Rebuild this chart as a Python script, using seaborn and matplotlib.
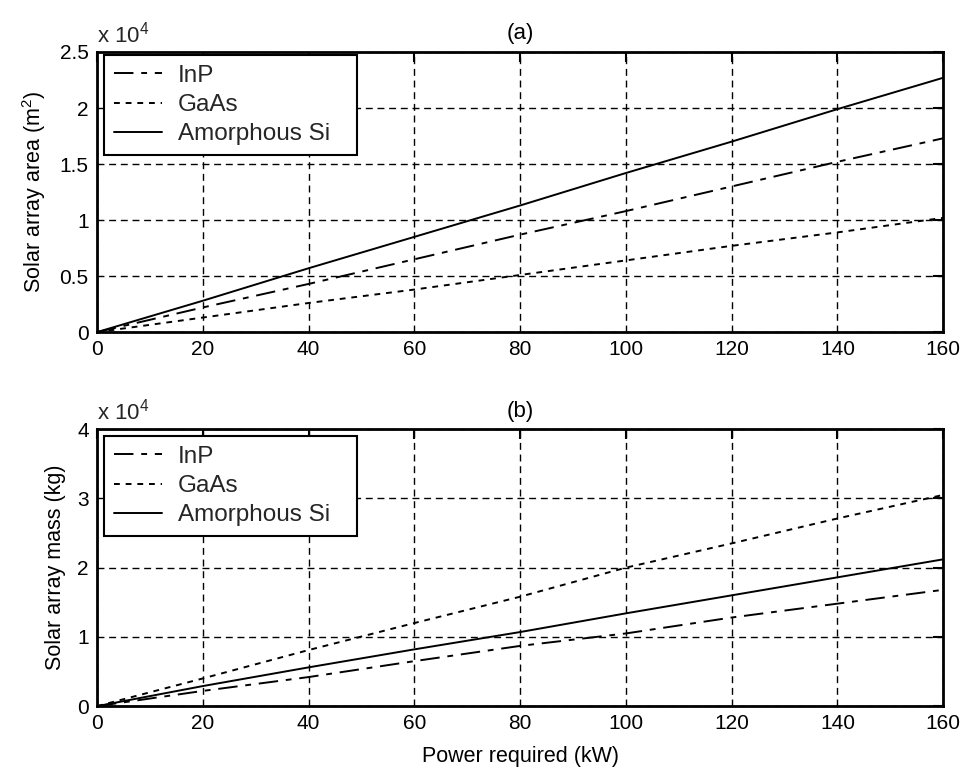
import matplotlib
matplotlib.use("Agg")
import matplotlib.pyplot as plt
import seaborn as sns
import pandas as pd

# Power required (kW)
power = [0, 20, 40, 60, 80, 100, 120, 140, 160]

# Solar array area, in units of 10^4 m^2
area_inp = [0, 0.22, 0.43, 0.65, 0.87, 1.08, 1.30, 1.52, 1.73]
area_gaas = [0, 0.13, 0.26, 0.38, 0.51, 0.64, 0.77, 0.89, 1.02]
area_si = [0, 0.28, 0.57, 0.85, 1.13, 1.42, 1.70, 1.99, 2.27]

# Solar array mass, in units of 10^4 kg
mass_inp = [0, 0.22, 0.42, 0.65, 0.87, 1.05, 1.28, 1.48, 1.68]
mass_gaas = [0, 0.40, 0.81, 1.20, 1.58, 2.00, 2.35, 2.71, 3.05]
mass_si = [0, 0.29, 0.56, 0.82, 1.07, 1.34, 1.60, 1.86, 2.12]

series_names = ["InP", "GaAs", "Amorphous Si"]
x_ticks = [0, 20, 40, 60, 80, 100, 120, 140, 160]

sns.set_theme(style="white")
plt.rcParams["font.family"] = ["Liberation Sans", "DejaVu Sans"]
plt.rcParams["mathtext.fontset"] = "custom"
plt.rcParams["mathtext.rm"] = "Liberation Sans"

fig = plt.figure(figsize=(9.66, 7.76), dpi=100)
ax_a = fig.add_axes([0.1004, 0.572, 0.876, 0.361])
ax_b = fig.add_axes([0.1004, 0.090, 0.876, 0.357])

styles = {"InP": (0, (10, 4, 3, 4)), "GaAs": (0, (3, 3)), "Amorphous Si": "-"}


def draw(ax, inp, gaas, si, ylim, yticks, yticklabels, ylabel, title, leg_top):
    df = pd.DataFrame({
        "power": power * 3,
        "value": inp + gaas + si,
        "material": [series_names[0]] * len(power)
        + [series_names[1]] * len(power)
        + [series_names[2]] * len(power),
    })
    for name in series_names:
        sub = df[df["material"] == name]
        sns.lineplot(data=sub, x="power", y="value", ax=ax, color="black",
                     linewidth=1.4, linestyle=styles[name], label=name,
                     zorder=3)
    ax.set_xlim(0, 160)
    ax.set_ylim(*ylim)
    ax.set_xticks(x_ticks)
    ax.set_xticklabels([str(t) for t in x_ticks])
    ax.set_yticks(yticks)
    ax.set_yticklabels(yticklabels)
    ax.grid(True, color="black", linestyle=(0, (5, 3.4)), linewidth=1.0)
    ax.tick_params(direction="in", length=7, width=1.5, top=True, right=True,
                   labelsize=15, colors="black", pad=6)
    for sp in ax.spines.values():
        sp.set_color("black")
        sp.set_linewidth(2.0)
    ax.set_xlabel("")
    ax.set_ylabel(ylabel, fontsize=15.5, color="black", labelpad=8)
    ax.set_title(title, fontsize=16, color="black", pad=9)
    ax.text(0.0, 1.015, r"x 10$^{4}$", transform=ax.transAxes, fontsize=16,
            ha="left", va="bottom")
    leg = ax.legend(loc="upper left", bbox_to_anchor=(0.0083, 0.0, 0.299, leg_top),
                    mode="expand", fontsize=17.5, frameon=True, fancybox=False,
                    edgecolor="black", framealpha=1, borderpad=0.4,
                    handlelength=2.0, labelspacing=0.3, handletextpad=0.65,
                    borderaxespad=0.0)
    leg.get_frame().set_linewidth(1.5)


draw(ax_a, area_inp, area_gaas, area_si, (0, 2.5),
     [0, 0.5, 1, 1.5, 2, 2.5], ["0", "0.5", "1", "1.5", "2", "2.5"],
     "Solar array area (m$^2$)", "(a)", 0.989)
draw(ax_b, mass_inp, mass_gaas, mass_si, (0, 4),
     [0, 1, 2, 3, 4], ["0", "1", "2", "3", "4"],
     "Solar array mass (kg)", "(b)", 0.975)
ax_b.set_xlabel("Power required (kW)", fontsize=15.5, color="black", labelpad=9)

fig.savefig("out.png", dpi=100, facecolor="white")
